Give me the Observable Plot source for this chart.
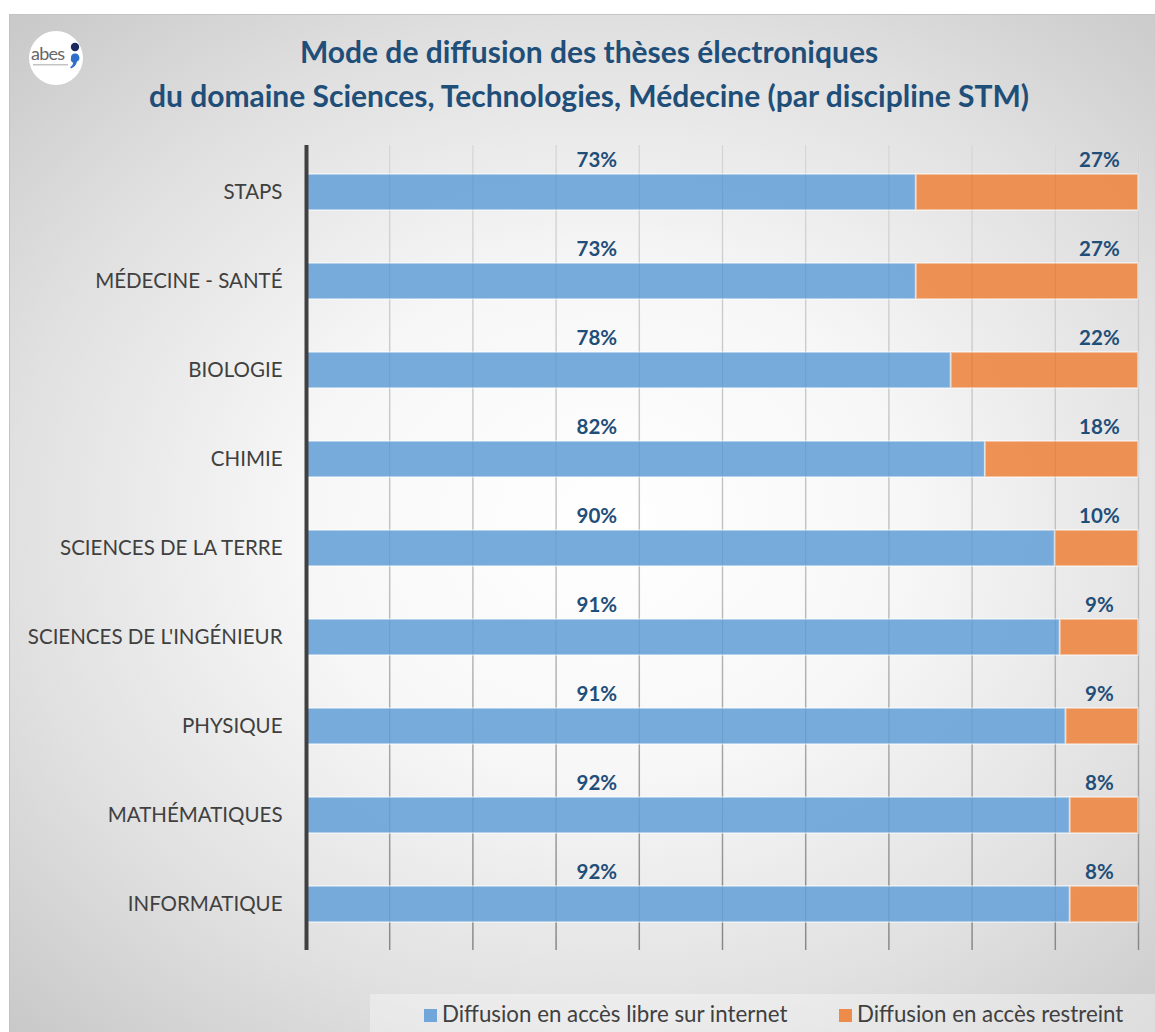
<!DOCTYPE html>
<html>
<head>
<meta charset="utf-8">
<script src="https://cdn.jsdelivr.net/npm/d3@7"></script>
<script src="https://cdn.jsdelivr.net/npm/@observablehq/plot@0.6"></script>
<style>
  html, body { margin: 0; padding: 0; background: #fff; }
  body { width: 1155px; height: 1032px; position: relative; overflow: hidden; font-family: Lato, "Open Sans", sans-serif; }
  #card { position: absolute; left: 9px; top: 14px; width: 1146px; height: 1018px;
    border-top: 1px solid #c4c4c4; border-left: 1px solid #c4c4c4; box-sizing: border-box;
    background: radial-gradient(ellipse 75% 70% at 52% 50%, #ffffff 0%, #f7f7f7 35%, #e0e0e0 70%, #c8c8c8 100%); }
  #title { position: absolute; left: 0; width: 1178px; top: 29px; text-align: center; color: #1F4E79;
    font-weight: 700; font-size: 30px; line-height: 44px; }
  #logo { position: absolute; left: 28px; top: 30px; }
  #chart { position: absolute; left: 0; top: 130px; }
  #legend { position: absolute; left: 370px; top: 994px; width: 785px; height: 38px; background: rgba(255,255,255,0.35);
    font-size: 22.3px; color: #404040; }
  .li { position: absolute; top: 6px; white-space: nowrap; }
  .sw { display: inline-block; width: 13px; height: 13px; margin-right: 5px; vertical-align: 0px; }
</style>
</head>
<body>
<div id="card"></div>
<svg id="logo" width="56" height="56" viewBox="0 0 56 56">
  <circle cx="28" cy="28" r="27" fill="#fff"/>
  <text x="3" y="30" font-family="Lato, sans-serif" font-size="18" fill="#666" letter-spacing="-0.8">abes</text>
  <rect x="5" y="34" width="35" height="1.5" fill="#c4c4c4"/>
  <circle cx="47" cy="17" r="4.2" fill="#1a2a5e"/>
  <path d="M43 28 a4.2 4.2 0 1 1 6 3.5 q-1 5 -6 7 l-0.8 -1.3 q3 -2 3 -4.5 a4 4 0 0 1 -2.2 -4.7z" fill="#2e6fc9"/>
</svg>
<div id="title">Mode de diffusion des thèses électroniques<br>du domaine Sciences, Technologies, Médecine (par discipline STM)</div>
<div id="chart"></div>
<div id="legend"></div>
<script>
const categories = ["STAPS", "MÉDECINE - SANTÉ", "BIOLOGIE", "CHIMIE", "SCIENCES DE LA TERRE", "SCIENCES DE L'INGÉNIEUR", "PHYSIQUE", "MATHÉMATIQUES", "INFORMATIQUE"];
const libre = [73.3, 73.3, 77.5, 81.6, 90.0, 90.6, 91.3, 91.8, 91.8];
const restreint = [26.7, 26.7, 22.5, 18.4, 10.0, 9.4, 8.7, 8.2, 8.2];
const libreLabels = ["73%", "73%", "78%", "82%", "90%", "91%", "91%", "92%", "92%"];
const restreintLabels = ["27%", "27%", "22%", "18%", "10%", "9%", "9%", "8%", "8%"];
const seriesNames = ["Diffusion en accès libre sur internet", "Diffusion en accès restreint"];
const seriesColors = ["#70A6DA", "#ED8B4B"];
const gridTicks = [10, 20, 30, 40, 50, 60, 70, 80, 90, 100];

const rows = [];
categories.forEach((c, i) => {
  rows.push({cat: c, series: seriesNames[0], value: libre[i]});
  rows.push({cat: c, series: seriesNames[1], value: restreint[i]});
});
const labelsL = categories.map((c, i) => ({cat: c, text: libreLabels[i]}));
const labelsR = categories.map((c, i) => ({cat: c, text: restreintLabels[i]}));

const W = 1155, H = 840, mT = 15, mB = 20;
const plot = Plot.plot({
  width: W, height: H,
  marginLeft: 306, marginRight: 17, marginTop: mT, marginBottom: mB,
  style: {background: "transparent", fontFamily: "Lato, 'Open Sans', sans-serif", fontSize: "20.5px", color: "#404040"},
  x: {domain: [0, 100], axis: null},
  y: {domain: categories, paddingInner: 0.6, paddingOuter: 0.3, label: null},
  color: {domain: seriesNames, range: seriesColors},
  marks: [
    Plot.ruleX(gridTicks, {stroke: "url(#gridgrad)", strokeWidth: 1.5}),
    Plot.barX(rows, {x: "value", y: "cat", fill: "series", fillOpacity: 0.95, stroke: "#ffffff", strokeOpacity: 0.45, strokeWidth: 2}),
    Plot.ruleX(gridTicks, {stroke: "#000", strokeOpacity: 0.06, strokeWidth: 1}),
    Plot.ruleX([0], {stroke: "#404040", strokeWidth: 4}),
    Plot.axisY({tickSize: 0, tickPadding: 24, fontSize: 20.5, fill: "#404040", label: null}),
    Plot.text(labelsL, {x: () => 34.9, y: "cat", text: "text", dy: -32, fill: "#1F4E79", fontWeight: "bold", fontSize: 20.5}),
    Plot.text(labelsR, {x: () => 95.3, y: "cat", text: "text", dy: -32, fill: "#1F4E79", fontWeight: "bold", fontSize: 20.5})
  ]
});
// vertical gradient for gridlines (light at top, darker at bottom)
const ns = "http://www.w3.org/2000/svg";
const defs = document.createElementNS(ns, "defs");
const lg = document.createElementNS(ns, "linearGradient");
lg.setAttribute("id", "gridgrad");
lg.setAttribute("gradientUnits", "userSpaceOnUse");
lg.setAttribute("x1", 0); lg.setAttribute("x2", 0);
lg.setAttribute("y1", mT); lg.setAttribute("y2", H - mB);
[["0%", "#e2e2e2"], ["55%", "#c8c8c8"], ["100%", "#8f8f8f"]].forEach(([o, c]) => {
  const s = document.createElementNS(ns, "stop");
  s.setAttribute("offset", o); s.setAttribute("stop-color", c);
  lg.appendChild(s);
});
defs.appendChild(lg);
plot.insertBefore(defs, plot.firstChild);
document.getElementById("chart").appendChild(plot);

const legend = document.getElementById("legend");
const legendX = [54, 469];
seriesNames.forEach((n, i) => {
  const d = document.createElement("div");
  d.className = "li";
  d.style.left = legendX[i] + "px";
  d.innerHTML = `<span class="sw" style="background:${seriesColors[i]}"></span>${n}`;
  legend.appendChild(d);
});
</script>
</body>
</html>
